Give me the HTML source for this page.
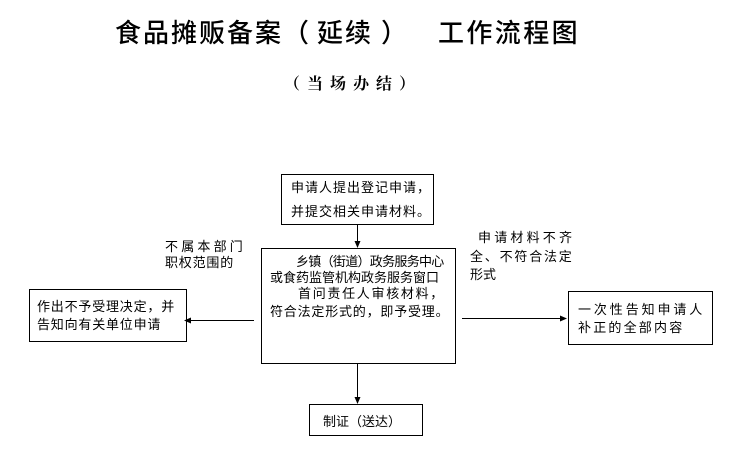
<!DOCTYPE html>
<html>
<head>
<meta charset="utf-8">
<style>
html,body{margin:0;padding:0;background:#fff;}
body{width:733px;height:461px;position:relative;overflow:hidden;}
.t{position:absolute;white-space:nowrap;font-family:"Liberation Sans","Noto Sans CJK SC",sans-serif;font-size:13px;line-height:13px;color:#000;}
.title{position:absolute;white-space:nowrap;font-family:"Liberation Sans","Noto Sans CJK SC",sans-serif;font-size:26px;line-height:26px;color:#000;letter-spacing:2px;font-weight:500;}
.sub{position:absolute;white-space:nowrap;font-family:"Liberation Serif","Noto Serif CJK SC",serif;font-weight:bold;font-size:16px;line-height:16px;color:#000;letter-spacing:7px;}
svg{position:absolute;left:0;top:0;}
</style>
</head>
<body>
<svg width="733" height="461" viewBox="0 0 733 461">
  <g fill="none" stroke="#000" stroke-width="1">
    <rect x="281.5" y="174.5" width="152" height="50"/>
    <rect x="261.5" y="248.5" width="194" height="115"/>
    <rect x="309.5" y="404.5" width="113" height="31"/>
    <rect x="29.5" y="289.5" width="157" height="52"/>
    <rect x="568.5" y="291.5" width="144" height="53"/>
    <line x1="357.5" y1="225" x2="357.5" y2="243"/>
    <line x1="357.5" y1="364" x2="357.5" y2="399"/>
    <line x1="254" y1="320.5" x2="190" y2="320.5"/>
    <line x1="462" y1="318.5" x2="562" y2="318.5"/>
  </g>
  <g fill="#000">
    <polygon points="354.5,241 360.5,241 357.5,248"/>
    <polygon points="354.5,397 360.5,397 357.5,404"/>
    <polygon points="184,320.5 191,317.5 191,323.5"/>
    <polygon points="567,318.5 560,315.5 560,321.5"/>
  </g>
</svg>

<div class="title" style="left:115px;top:20px;">食品摊贩备案</div>
<div class="title" style="left:283px;top:20px;letter-spacing:0;">（</div>
<div class="title" style="left:317px;top:20px;">延续</div>
<div class="title" style="left:381px;top:20px;letter-spacing:0;">）</div>
<div class="title" style="left:438px;top:20px;letter-spacing:2.4px;">工作流程图</div>

<div class="sub" style="left:284px;top:77px;">（当场办结）</div>

<div class="t" style="left:291px;top:181px;letter-spacing:1px;">申请人提出登记申请，</div>
<div class="t" style="left:291px;top:205px;letter-spacing:1px;">并提交相关申请材料。</div>

<div class="t" style="left:296px;top:255px;letter-spacing:-0.7px;">乡镇（街道）政务服务中心</div>
<div class="t" style="left:270px;top:271px;">或食药监管机构政务服务窗口</div>
<div class="t" style="left:298px;top:287px;letter-spacing:1.7px;">首问责任人审核材料，</div>
<div class="t" style="left:270px;top:305px;letter-spacing:0.8px;">符合法定形式的，即予受理。</div>

<div class="t" style="left:323px;top:415px;letter-spacing:0;">制证（送达）</div>

<div class="t" style="left:37px;top:300px;letter-spacing:0.8px;">作出不予受理决定，并</div>
<div class="t" style="left:37px;top:318px;letter-spacing:0.8px;">告知向有关单位申请</div>

<div class="t" style="left:165px;top:240px;letter-spacing:3.2px;">不属本部门</div>
<div class="t" style="left:165px;top:256px;letter-spacing:0.8px;">职权范围的</div>

<div class="t" style="left:478px;top:231px;letter-spacing:3.2px;">申请材料不齐</div>
<div class="t" style="left:470px;top:250px;letter-spacing:1.8px;">全、不符合法定</div>
<div class="t" style="left:470px;top:268px;">形式</div>

<div class="t" style="left:578px;top:303px;letter-spacing:2.9px;">一次性告知申请人</div>
<div class="t" style="left:578px;top:321px;letter-spacing:2.2px;">补正的全部内容</div>
</body>
</html>
